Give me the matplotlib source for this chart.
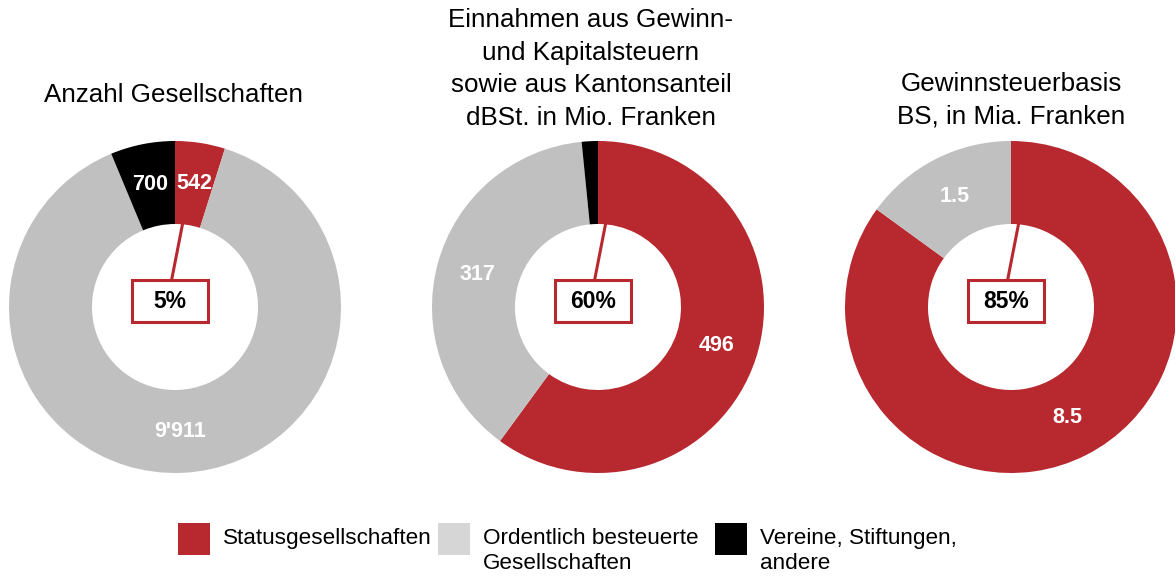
import matplotlib.pyplot as plt
from matplotlib.patches import Rectangle

plt.rcParams['font.family'] = ['Liberation Sans', 'DejaVu Sans']

# data
categories = ["Statusgesellschaften", "Ordentlich besteuerte\nGesellschaften", "Vereine, Stiftungen,\nandere"]
titles = ["Anzahl Gesellschaften",
          "Einnahmen aus Gewinn-\nund Kapitalsteuern\nsowie aus Kantonsanteil\ndBSt. in Mio. Franken",
          "Gewinnsteuerbasis\nBS, in Mia. Franken"]
anzahl = [542, 9911, 700]
einnahmen = [496, 317, 13]
basis = [8.5, 1.5, 0]
value_labels = [["542", "9'911", "700"], ["496", "317", ""], ["8.5", "1.5", ""]]
shares = ["5%", "60%", "85%"]

red = "#B8282F"
gray = "#C0C0C0"
legend_gray = "#D6D6D6"
colors = [red, gray, "black"]

W, H = 1175, 577
fig = plt.figure(figsize=(W / 100, H / 100), dpi=100)

centers_x = [175, 598, 1011]
cy = 307
R = 166
title_x = [173, 591, 1011]
title_y = [95, 69, 100]

for i, vals in enumerate([anzahl, einnahmen, basis]):
    cx = centers_x[i]
    ax = fig.add_axes([(cx - R) / W, (H - cy - R) / H, 2 * R / W, 2 * R / H])
    keep = [j for j, v in enumerate(vals) if v > 0]
    v = [vals[j] for j in keep]
    c = [colors[j] for j in keep]
    labs = [value_labels[i][j] for j in keep]
    wedges, texts = ax.pie(v, colors=c, startangle=90, counterclock=False,
                           radius=1, labels=labs, labeldistance=0.75,
                           wedgeprops=dict(width=0.5, linewidth=0),
                           textprops=dict(color='white', fontsize=15.5, fontweight='bold'))
    for t in texts:
        t.set_ha('center')
        t.set_va('center')
    ax.set_xlim(-1, 1)
    ax.set_ylim(-1, 1)
    ax.set_aspect('equal')
    ax.axis('off')

    # pointer line and share box
    ax.plot([-0.02, 0.065], [0.165, 0.60], color=red, lw=2.2, solid_capstyle='butt', zorder=3)
    ax.add_patch(Rectangle((-0.26, -0.09), 0.46, 0.255, facecolor='white',
                           edgecolor=red, lw=2.2, zorder=4))
    ax.text(-0.03, 0.035, shares[i], ha='center', va='center', fontsize=16.5,
            fontweight='bold', color='black', zorder=5)

    fig.text(title_x[i] / W, 1 - title_y[i] / H, titles[i], ha='center',
             va='center', fontsize=18.7, linespacing=1.45)

# legend
leg_x = [178, 438, 715]
for x, lab, col in zip(leg_x, categories, [red, legend_gray, "black"]):
    fig.patches.append(Rectangle((x / W, 1 - 555 / H), 32 / W, 32 / H, transform=fig.transFigure,
                                 facecolor=col, edgecolor='none'))
    fig.text((x + 45) / W, 1 - 528 / H, lab, ha='left', va='top', fontsize=16.2, linespacing=1.28)

fig.savefig('out.png', dpi=100)
